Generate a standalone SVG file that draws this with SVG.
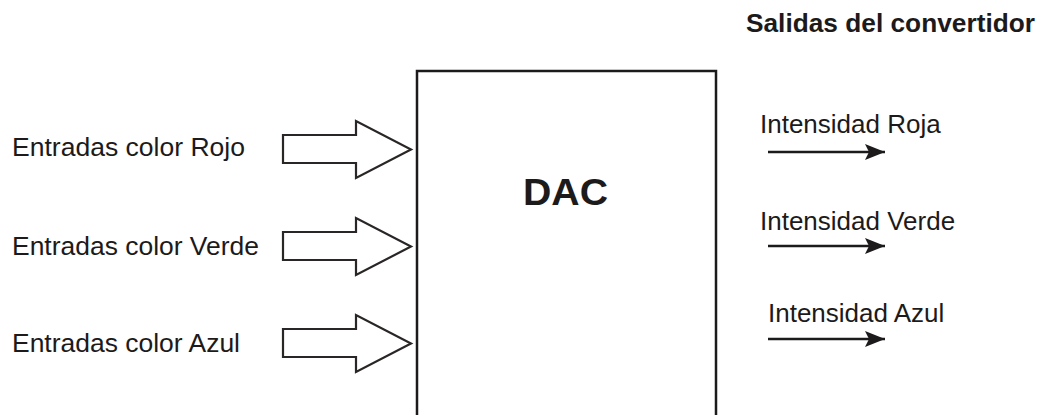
<svg xmlns="http://www.w3.org/2000/svg" width="1046" height="415" viewBox="0 0 1046 415">
  <style>
    .lbl { font-family: "Liberation Sans", Arial, sans-serif; font-size: 25px; fill: #1c1a1a; }
    .out { font-family: "Liberation Sans", Arial, sans-serif; font-size: 26px; fill: #1c1a1a; }
    .title { font-family: "Liberation Sans", Arial, sans-serif; font-size: 26px; font-weight: bold; fill: #1c1a1a; }
    .dac { font-family: "Liberation Sans", Arial, sans-serif; font-size: 36px; font-weight: bold; fill: #1c1a1a; }
    .block { fill: #ffffff; stroke: #1c1a1a; stroke-width: 2.5; }
    .bus { fill: #ffffff; stroke: #2a2626; stroke-width: 2.2; stroke-linejoin: miter; }
    .wire { stroke: #1c1a1a; stroke-width: 2.5; fill: none; }
  </style>
  <defs>
    <marker id="head" markerUnits="userSpaceOnUse" markerWidth="20" markerHeight="16" refX="20" refY="8" orient="auto">
      <path d="M0,0 L20,8 L0,16 L4,8 Z" fill="#1c1a1a"/>
    </marker>
    <!-- wide hollow bus arrow -->
    <polygon id="busArrow" class="bus" points="283,135 356,135 356,121 411,149.5 356,178 356,163 283,163"/>
  </defs>

  <rect width="1046" height="415" fill="#ffffff"/>

  <text class="title" x="746" y="32" textLength="289" lengthAdjust="spacingAndGlyphs">Salidas del convertidor</text>

  <g id="dac">
    <rect class="block" x="417" y="71" width="299" height="360"/>
    <text class="dac" x="523" y="205" textLength="85" lengthAdjust="spacingAndGlyphs">DAC</text>
  </g>

  <g id="in-rojo">
    <text class="lbl" x="12" y="156" textLength="233" lengthAdjust="spacingAndGlyphs">Entradas color Rojo</text>
  </g>
  <g id="in-verde">
    <text class="lbl" x="12" y="255" textLength="247" lengthAdjust="spacingAndGlyphs">Entradas color Verde</text>
  </g>
  <g id="in-azul">
    <text class="lbl" x="12" y="352" textLength="228" lengthAdjust="spacingAndGlyphs">Entradas color Azul</text>
  </g>

  <g id="out-roja">
    <text class="out" x="760" y="133">Intensidad Roja</text>
  </g>
  <g id="out-verde">
    <text class="out" x="760" y="230">Intensidad Verde</text>
  </g>
  <g id="out-azul">
    <text class="out" x="768" y="322">Intensidad Azul</text>
  </g>

  <g id="connectors">
    <use href="#busArrow"/>
    <use href="#busArrow" transform="translate(0,97)"/>
    <use href="#busArrow" transform="translate(0,194)"/>
    <line class="wire" x1="768" y1="152" x2="885" y2="152" marker-end="url(#head)"/>
    <line class="wire" x1="768" y1="246" x2="885" y2="246" marker-end="url(#head)"/>
    <line class="wire" x1="768" y1="339" x2="885" y2="339" marker-end="url(#head)"/>
  </g>
</svg>
